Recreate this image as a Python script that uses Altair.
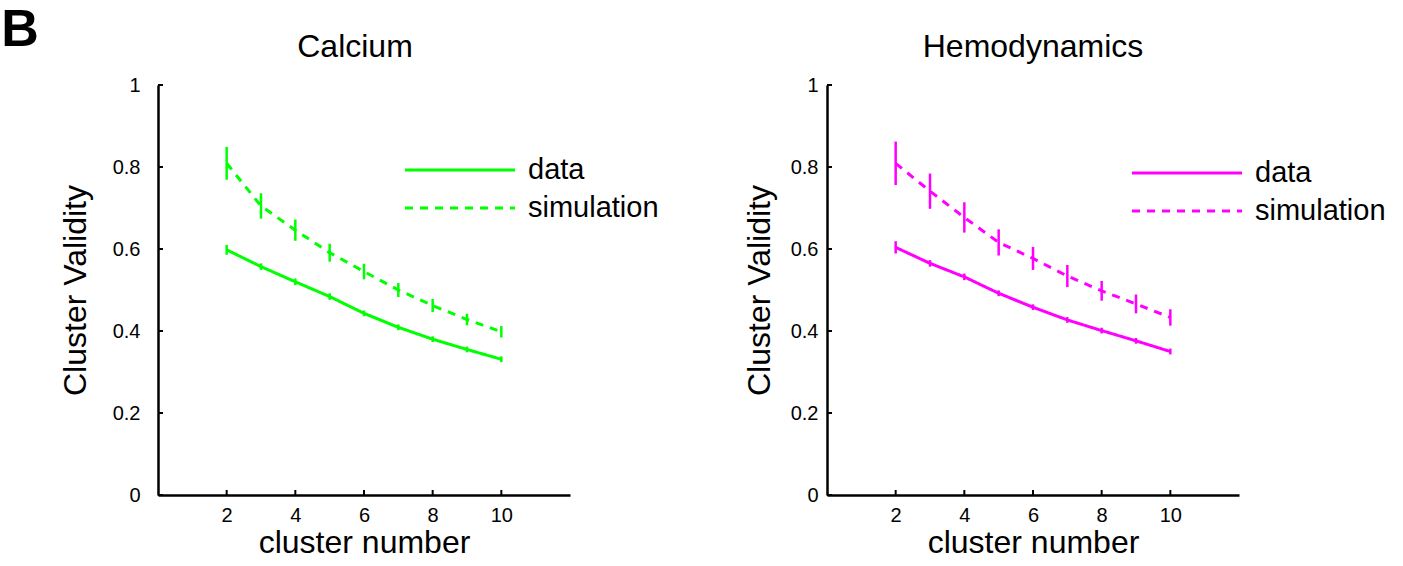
import altair as alt
import pandas as pd

clusters = [2, 3, 4, 5, 6, 7, 8, 9, 10]
series_names = ["data", "simulation"]

ca_data = [0.598, 0.557, 0.520, 0.484, 0.443, 0.409, 0.380, 0.355, 0.331]
ca_data_err = [0.012, 0.008, 0.008, 0.008, 0.007, 0.007, 0.007, 0.007, 0.007]
ca_sim = [0.809, 0.705, 0.646, 0.591, 0.545, 0.500, 0.462, 0.428, 0.398]
ca_sim_err = [0.040, 0.031, 0.026, 0.022, 0.019, 0.017, 0.016, 0.014, 0.014]

he_data = [0.604, 0.565, 0.532, 0.492, 0.458, 0.427, 0.401, 0.376, 0.350]
he_data_err = [0.015, 0.008, 0.008, 0.007, 0.007, 0.007, 0.007, 0.007, 0.007]
he_sim = [0.809, 0.741, 0.677, 0.616, 0.577, 0.534, 0.498, 0.466, 0.433]
he_sim_err = [0.053, 0.043, 0.037, 0.032, 0.028, 0.027, 0.024, 0.023, 0.020]

x_ticks = [2, 4, 6, 8, 10]
y_ticks = [0, 0.2, 0.4, 0.6, 0.8, 1]

FONT = "Liberation Sans"
W, H = 412, 410


def make_df(data, data_err, sim, sim_err):
    rows = []
    for name, vals, errs in (("data", data, data_err), ("simulation", sim, sim_err)):
        for c, v, e in zip(clusters, vals, errs):
            rows.append({"cluster": c, "value": v, "lo": v - e, "hi": v + e, "series": name})
    return pd.DataFrame(rows)


def panel(title, color, df, y_label_pad, y_title_pad, leg_x, leg_y, title_dx):
    x = alt.X(
        "cluster:Q",
        scale=alt.Scale(domain=[0, 12], nice=False, zero=False),
        axis=alt.Axis(values=x_ticks, title="cluster number", labelPadding=10,
                      titlePadding=2),
    )
    y = alt.Y(
        "value:Q",
        scale=alt.Scale(domain=[0, 1], nice=False),
        axis=alt.Axis(values=y_ticks, format="~g", title="Cluster Validity",
                      labelPadding=y_label_pad, titlePadding=y_title_pad),
    )
    base = alt.Chart(df)
    lines = base.mark_line(color=color, strokeWidth=3).encode(
        x=x,
        y=y,
        strokeDash=alt.StrokeDash(
            "series:N",
            scale=alt.Scale(domain=series_names, range=[[1, 0], [8, 7]]),
            legend=alt.Legend(
                title=None,
                orient="none",
                legendX=leg_x,
                legendY=leg_y,
                labelFontSize=29,
                labelFont=FONT,
                labelColor="black",
                labelOffset=48,
                symbolType="M-3,0H3",
                symbolSize=1344,
                symbolStrokeWidth=3,
                symbolStrokeColor=color,
                symbolFillColor="transparent",
                rowPadding=3,
            ),
        ),
    )
    bars = base.mark_rule(color=color, strokeWidth=2.5).encode(
        x="cluster:Q", y="lo:Q", y2="hi:Q"
    )
    xt = alt.Chart(pd.DataFrame({"cluster": x_ticks})).mark_rule(
        color="black", strokeWidth=2
    ).encode(x="cluster:Q", y=alt.value(H), y2=alt.value(H - 5))
    yt = alt.Chart(pd.DataFrame({"value": y_ticks})).mark_rule(
        color="black", strokeWidth=2
    ).encode(y="value:Q", x=alt.value(0), x2=alt.value(5))
    return alt.layer(lines, bars, xt, yt).properties(
        width=W,
        height=H,
        title=alt.TitleParams(title, fontSize=32, font=FONT, fontWeight="normal",
                              color="black", offset=11, dx=title_dx),
    )


left = panel("Calcium", "#00ff00", make_df(ca_data, ca_data_err, ca_sim, ca_sim_err),
             18, 20, 282, 65, -9)
right = panel("Hemodynamics", "#ff00ff", make_df(he_data, he_data_err, he_sim, he_sim_err),
              9, 14, 340, 68, 0)

chart = alt.hconcat(left, right, spacing=84).resolve_scale(
    strokeDash="independent"
).resolve_legend(strokeDash="independent").properties(
    title=alt.TitleParams("B", fontSize=52, font=FONT, fontWeight="bold", color="black",
                          anchor="start", offset=-26, dx=-58),
    padding={"left": 1, "top": 4, "right": 5, "bottom": 5},
).configure_view(stroke=None).configure_axis(
    domainColor="black",
    domainWidth=2.5,
    ticks=False,
    tickSize=0,
    labelFontSize=20,
    labelFont=FONT,
    labelColor="black",
    titleFontSize=32,
    titleFont=FONT,
    titleFontWeight="normal",
    titleColor="black",
    grid=False,
)

chart.save("out.html", embed_options={"renderer": "svg", "actions": False})
